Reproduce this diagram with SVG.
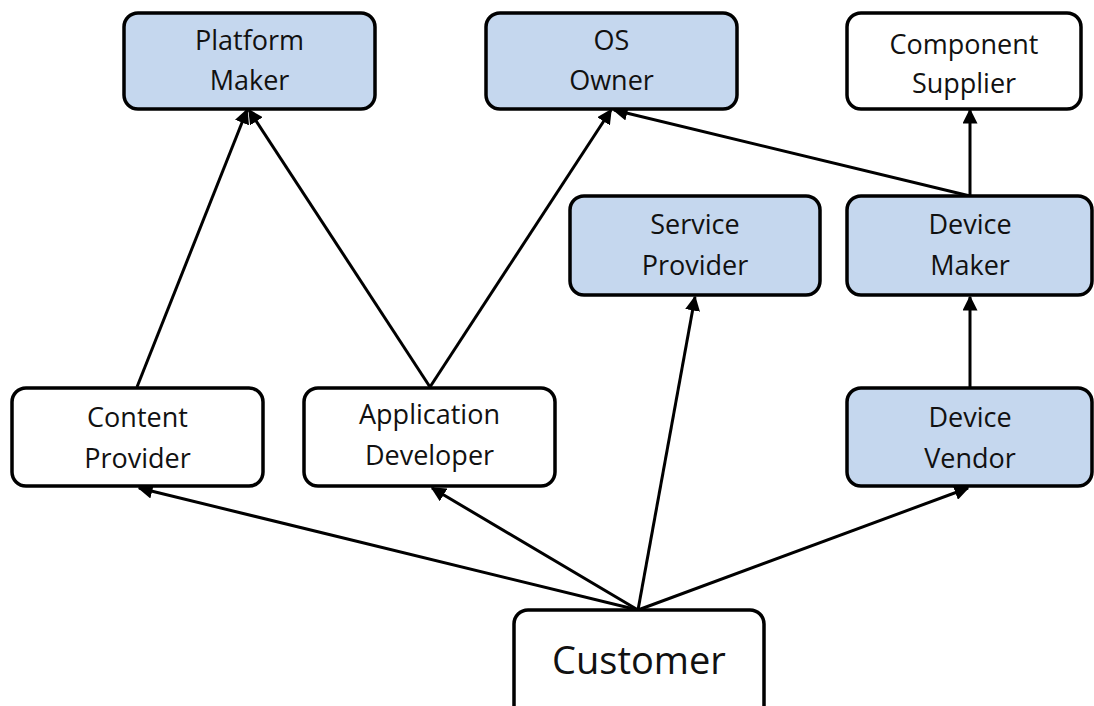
<svg xmlns="http://www.w3.org/2000/svg" width="1094" height="706" viewBox="0 0 1094 706">
<defs>
<marker id="ah" viewBox="0 0 10 10" refX="9" refY="5" markerWidth="5" markerHeight="5" orient="auto" markerUnits="strokeWidth">
<path d="M0,0 L10,5 L0,10 z" fill="#000"/>
</marker>
<style>
.box{stroke:#000;stroke-width:3.5}
.blue{fill:#c5d7ee}
.white{fill:#fff}
text{font-family:"Open Sans","Liberation Sans",sans-serif;font-size:27px;fill:#111;text-anchor:middle}
.big{font-size:38px}
.c{fill:none;stroke:#000;stroke-width:3;marker-end:url(#ah)}
</style>
</defs>
<rect width="1094" height="706" fill="#fff"/>
<g id="connectors">
<line class="c" x1="137" y1="387" x2="247" y2="110"/>
<line class="c" x1="430" y1="387" x2="249" y2="110"/>
<line class="c" x1="430" y1="387" x2="611" y2="110"/>
<line class="c" x1="970" y1="196" x2="614" y2="110"/>
<line class="c" x1="970" y1="196" x2="970" y2="110"/>
<line class="c" x1="970" y1="387" x2="970" y2="297"/>
<line class="c" x1="638" y1="610" x2="139" y2="488"/>
<line class="c" x1="638" y1="610" x2="432" y2="488"/>
<line class="c" x1="638" y1="610" x2="695" y2="297"/>
<line class="c" x1="638" y1="610" x2="968" y2="488"/>
</g>
<g id="platform-maker"><rect class="box blue" x="124" y="13" width="251" height="96" rx="14"/><text x="249.5" y="50">Platform</text><text x="249.5" y="90">Maker</text></g>
<g id="os-owner"><rect class="box blue" x="486" y="13" width="251" height="96" rx="14"/><text x="611.5" y="50">OS</text><text x="611.5" y="90">Owner</text></g>
<g id="component-supplier"><rect class="box white" x="847" y="13" width="234" height="96" rx="14"/><text x="964" y="54">Component</text><text x="964" y="93">Supplier</text></g>
<g id="service-provider"><rect class="box blue" x="570" y="196" width="250" height="99" rx="14"/><text x="695" y="234">Service</text><text x="695" y="275">Provider</text></g>
<g id="device-maker"><rect class="box blue" x="847" y="196" width="245" height="99" rx="14"/><text x="970" y="234">Device</text><text x="970" y="275">Maker</text></g>
<g id="content-provider"><rect class="box white" x="12" y="388" width="251" height="98" rx="14"/><text x="137.5" y="427">Content</text><text x="137.5" y="468">Provider</text></g>
<g id="application-developer"><rect class="box white" x="304" y="388" width="251" height="98" rx="14"/><text x="429.5" y="424">Application</text><text x="429.5" y="465">Developer</text></g>
<g id="device-vendor"><rect class="box blue" x="847" y="388" width="245" height="98" rx="14"/><text x="970" y="427">Device</text><text x="970" y="468">Vendor</text></g>
<g id="customer"><rect class="box white" x="514" y="610" width="250" height="110" rx="14"/><text class="big" x="639" y="674">Customer</text></g>
</svg>
